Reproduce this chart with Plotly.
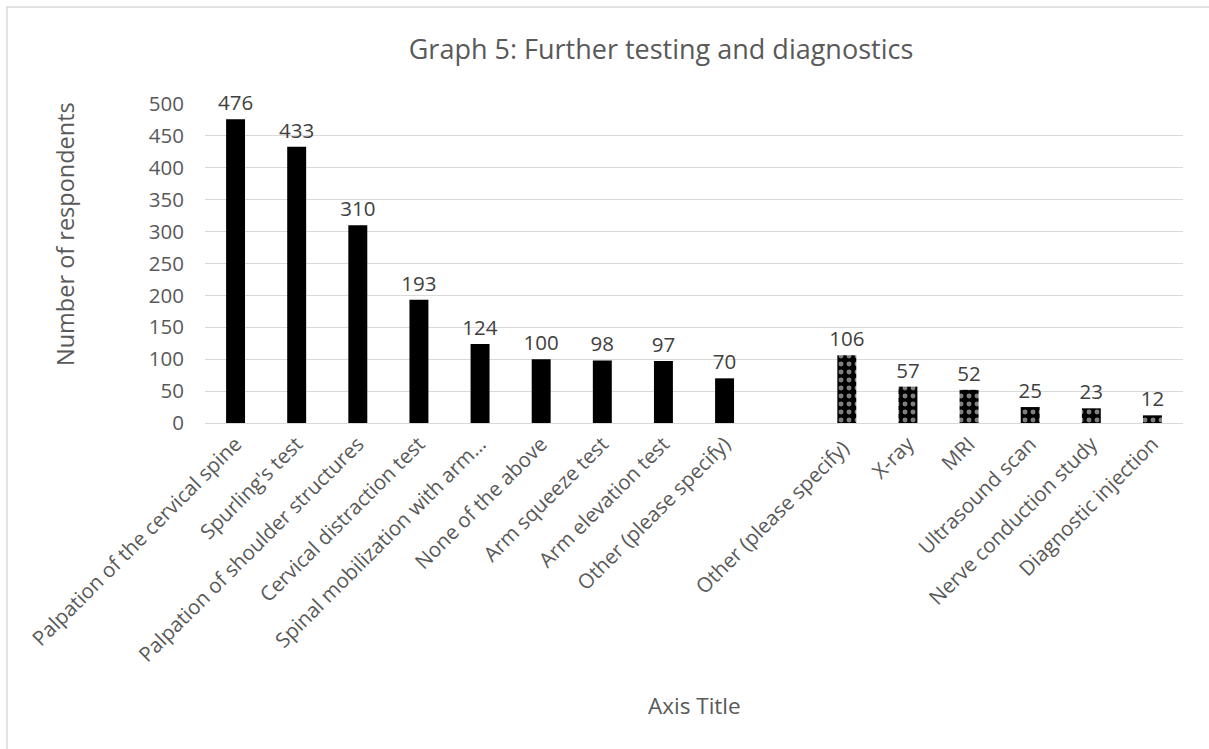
import plotly.graph_objects as go

exam_tests = ["Palpation of the cervical spine", "Spurling's test", "Palpation of shoulder structures",
              "Cervical distraction test", "Spinal mobilization with arm…", "None of the above",
              "Arm squeeze test", "Arm elevation test", "Other (please specify)"]
exam_values = [476, 433, 310, 193, 124, 100, 98, 97, 70]
gap_category = [" "]
diag_tests = ["Other (please specify) ", "X-ray", "MRI", "Ultrasound scan",
              "Nerve conduction study", "Diagnostic injection"]
diag_values = [106, 57, 52, 25, 23, 12]
y_ticks = [0, 50, 100, 150, 200, 250, 300, 350, 400, 450, 500]

FONT = "Open Sans"
GREY = "#595959"

all_cats = exam_tests + gap_category + diag_tests

fig = go.Figure()
fig.add_trace(go.Bar(
    x=exam_tests, y=exam_values, width=0.31,
    marker=dict(color="black", line=dict(width=0)),
    text=exam_values, textposition="outside", constraintext="none",
    textfont=dict(family=FONT, size=20.5, color="#404040"),
    cliponaxis=False, showlegend=False,
))
fig.add_trace(go.Bar(
    x=diag_tests, y=diag_values, width=0.31,
    marker=dict(color="black", line=dict(width=0),
                pattern=dict(shape=".", fgcolor="white",
                             size=8, solidity=0.3, fillmode="overlay")),
    text=diag_values, textposition="outside", constraintext="none",
    textfont=dict(family=FONT, size=20.5, color="#404040"),
    cliponaxis=False, showlegend=False,
))

L, R, T, B = 205, 1209 - 1183, 104, 749 - 423
pw, ph = 1209 - L - R, 749 - T - B

fig.update_layout(
    width=1209, height=749,
    margin=dict(l=L, r=R, t=T, b=B),
    paper_bgcolor="white", plot_bgcolor="white",
    barmode="overlay",
    font=dict(family=FONT, color=GREY),
    title=dict(text="Graph 5: Further testing and diagnostics",
               font=dict(family=FONT, size=27, color=GREY),
               x=661 / 1209, xanchor="center", y=1 - 50 / 749, yanchor="middle"),
    xaxis=dict(categoryorder="array", categoryarray=all_cats, type="category",
               tickangle=-45, tickfont=dict(family=FONT, size=20.5, color=GREY),
               showgrid=False, showline=True, linecolor="#d9d9d9", linewidth=1,
               ticks="", range=[-0.5, len(all_cats) - 0.5]),
    yaxis=dict(range=[0, 500], tickvals=y_ticks, showgrid=True, gridcolor="#d9d9d9",
               gridwidth=1, zeroline=False, showline=False, ticks="",
               ticklabelstandoff=20,
               tickfont=dict(family=FONT, size=20.5, color=GREY)),
    annotations=[
        dict(text="Axis Title", xref="paper", yref="paper",
             x=(694 - L) / pw, y=(423 - 705) / ph, xanchor="center", yanchor="middle",
             showarrow=False, font=dict(family=FONT, size=22.5, color=GREY)),
        dict(text="Number of respondents", xref="paper", yref="paper",
             x=(65 - L) / pw, y=(423 - 234) / ph, xanchor="center", yanchor="middle",
             textangle=-90, showarrow=False, font=dict(family=FONT, size=23.5, color=GREY)),
    ],
)

# chart-area border
fig.add_shape(type="rect", xref="paper", yref="paper",
              x0=(7 - L) / pw, x1=(1220 - L) / pw,
              y0=(423 - 760) / ph, y1=(423 - 7) / ph,
              line=dict(color="#d9d9d9", width=1.5), fillcolor="rgba(0,0,0,0)", layer="below")

fig.write_html("out.html", config={"displayModeBar": False},
               post_script="document.body.style.margin='0';")
